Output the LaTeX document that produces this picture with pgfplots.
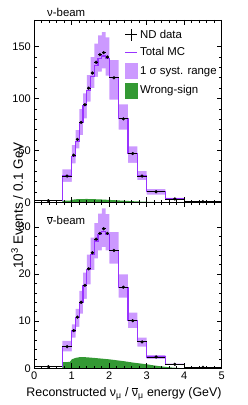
\documentclass[border=0pt]{standalone}
\usepackage{fontspec}
\setmainfont{Liberation Sans}
\usepackage{pgfplots}
\usepackage{pgfplotstable}
\pgfplotsset{compat=1.18}
\definecolor{band}{RGB}{204,153,255}
\definecolor{mcline}{RGB}{153,51,255}
\definecolor{wsgreen}{RGB}{51,153,51}

% nu-beam: left edge, centre, half width, data, MC, band low, band high
\pgfplotstableread{
xl   xc    ex    data  mc    lo    hi
0    0.375 0.375 1.5   1.5   1.2   1.8
0.75 0.875 0.125 25.3  25.5  19.8  31.7
1.0  1.05  0.05  45.5  44.5  37.5  55
1.1  1.15  0.05  60.6  59    52    69.5
1.2  1.25  0.05  77    77    64.7  89.7
1.3  1.35  0.05  94    93    81    105
1.4  1.45  0.05  110   107.5 97    122.6
1.5  1.55  0.05  124.6 121.5 110   140
1.6  1.65  0.05  135   132   121   153
1.7  1.75  0.05  142.3 139   126   161
1.8  1.85  0.05  144.2 141   129   164
1.9  1.95  0.05  140   139   122   159
2.0  2.125 0.125 120   120.5 99    137
2.25 2.375 0.125 80.4  80.5  70    94.4
2.5  2.625 0.125 47    47    38    54
2.75 2.875 0.125 25.3  25.5  21.4  30
3.0  3.25  0.25  10.2  10.3  7.5   12.8
3.5  3.75  0.25  3.2   3.3   2.4   4.2
4.0  4.5   0.5   0.6   0.6   0.4   0.8
5.0  5.0   0     0.6   0.6   0.4   0.8
}\nutab

% anti-nu-beam
\pgfplotstableread{
xl   xc    ex    data  mc    lo    hi
0    0.375 0.375 0.35  0.35  0.3   0.4
0.75 0.875 0.125 4.6   4.7   3.6   5.8
1.0  1.05  0.05  8.0   7.9   6.5   9.3
1.1  1.15  0.05  10.85 10.7  8.8   12.6
1.2  1.25  0.05  14.0  14.0  11.6  16.4
1.3  1.35  0.05  17.6  17.5  14.7  20.3
1.4  1.45  0.05  21.1  20.9  17.8  24.1
1.5  1.55  0.05  24.5  24.2  20.8  27.7
1.6  1.65  0.05  27.4  27.0  23.3  30.8
1.7  1.75  0.05  28.6  28.3  25.0  32.8
1.8  1.85  0.05  29.6  29.0  25.7  33.9
1.9  1.95  0.05  28.6  28.3  25.0  32.7
2.0  2.125 0.125 25.0  24.9  22.2  28.9
2.25 2.375 0.125 17.2  17.2  15.0  19.9
2.5  2.625 0.125 10.1  10.1  8.5   11.8
2.75 2.875 0.125 5.6   5.6   4.6   6.5
3.0  3.25  0.25  2.4   2.4   2.0   2.8
3.5  3.75  0.25  0.85  0.85  0.7   1.0
4.0  4.5   0.5   0.2   0.2   0.15  0.25
5.0  5.0   0     0.2   0.2   0.15  0.25
}\nubartab

\pgfplotsset{
  panel/.style={
    scale only axis, width=187.4pt,
    xmin=0, xmax=5, ymin=0,
    xtick={0,1,2,3,4,5},
    minor x tick num=4, minor y tick num=4,
    tick align=inside,
    major tick length=5pt, minor tick length=2.6pt,
    axis line style={line width=0.8pt, black},
    every tick/.style={line width=0.6pt, black},
    /pgf/number format/assume math mode=true,
    tick label style={font=\fontsize{11}{13}\selectfont},
    axis on top,
  },
  datastyle/.style={only marks, mark=*, mark size=1.4pt, black, forget plot,
    skip coords between index={19}{20},
    error bars/.cd, x dir=both, x explicit, error mark=none,
    error bar style={line width=0.9pt, black}},
  mcstyle/.style={const plot mark left, mcline, line width=1.1pt, forget plot},
  bandhi/.style={const plot mark left, fill=band, draw=none, forget plot},
  bandlo/.style={const plot mark left, fill=white, draw=none, forget plot},
}

\begin{document}
\begin{tikzpicture}
\useasboundingbox (-34.3pt,-36.7pt) rectangle (212.7pt,368.3pt);

% ---------------- bottom panel: anti-nu beam
\begin{axis}[panel, at={(0pt,0pt)}, anchor=south west, height=166pt,
  ymax=35.2, ytick={0,10,20,30}]
  \addplot[bandhi] table[x=xl, y=hi] {\nubartab} \closedcycle;
  \addplot[bandlo] table[x=xl, y=lo] {\nubartab} \closedcycle;
  \addplot[fill=wsgreen, draw=none, forget plot] coordinates {
    (0.75,0)(0.75,1.3)(0.95,1.35)(1.0,1.9)(1.1,2.2)(1.2,2.35)(1.3,2.38)(1.4,2.33)
    (1.6,2.2)(1.8,2.05)(2.0,1.9)(2.2,1.7)(2.4,1.5)(2.6,1.25)(2.8,1.05)(3.0,0.85)
    (3.2,0.6)(3.4,0.4)(3.5,0.3)(3.7,0.15)(4.0,0)} \closedcycle;
  \addplot[mcstyle] table[x=xl, y=mc] {\nubartab};
  \addplot[datastyle] table[x=xc, y=data, x error=ex] {\nubartab};
\end{axis}

% ---------------- top panel: nu beam
\begin{axis}[panel, at={(0pt,166pt)}, anchor=south west, height=182.3pt,
  ymax=175.7, ytick={0,50,100,150}, xticklabels={},
  legend cell align=left,
  legend style={draw=none, fill=none, at={(0.985,0.958)}, anchor=north east,
    font=\fontsize{11.4}{13}\selectfont, row sep=4pt, inner sep=0pt,
    /tikz/every even column/.append style={column sep=1.5pt}}]
  \addplot[bandhi] table[x=xl, y=hi] {\nutab} \closedcycle;
  \addplot[bandlo] table[x=xl, y=lo] {\nutab} \closedcycle;
  \addplot[fill=wsgreen, draw=none, forget plot] coordinates {
    (0.75,0)(0.75,1.5)(0.95,1.6)(1.0,2.4)(1.1,2.9)(1.2,3.1)(1.4,3.2)(1.6,3.0)
    (1.8,2.7)(2.0,2.3)(2.2,1.9)(2.4,1.5)(2.6,1.1)(2.8,0.8)(3.0,0.5)(3.2,0.3)
    (3.5,0.15)(3.8,0.05)(4.0,0)} \closedcycle;
  \addplot[mcstyle] table[x=xl, y=mc] {\nutab};
  \addplot[datastyle] table[x=xc, y=data, x error=ex] {\nutab};

  \addlegendimage{legend image code/.code={
    \draw[black, line width=1pt] (0pt,0pt)--(12pt,0pt);
    \draw[black, line width=1pt] (6pt,-6pt)--(6pt,6pt);}}
  \addlegendentry{ND data}
  \addlegendimage{legend image code/.code={
    \draw[mcline, line width=1.4pt] (0pt,0pt)--(12pt,0pt);}}
  \addlegendentry{Total MC}
  \addlegendimage{legend image code/.code={
    \fill[band] (0pt,-7.5pt) rectangle (12pt,7.5pt);}}
  \addlegendentry{1 σ syst. range}
  \addlegendimage{legend image code/.code={
    \fill[wsgreen] (0pt,-7.5pt) rectangle (12pt,7.5pt);}}
  \addlegendentry{Wrong-sign}
\end{axis}

\node[anchor=base west, inner sep=0pt, font=\fontsize{11.4}{13}\selectfont]
  at (12.7pt,351.8pt) {ν-beam};
\node[anchor=base west, inner sep=0pt, font=\fontsize{11.4}{13}\selectfont]
  at (12.7pt,144pt) {$\overline{\mbox{ν}}$-beam};
\node[rotate=90, anchor=base, inner sep=0pt, font=\fontsize{13.5}{16}\selectfont]
  at (-11.3pt,162.8pt) {10\textsuperscript{3} Events / 0.1 GeV};
\node[anchor=base east, inner sep=0pt, font=\fontsize{12.4}{14}\selectfont]
  at (187.4pt,-28.2pt) {Reconstructed ν\textsubscript{μ} / $\overline{\mbox{ν}}$\textsubscript{μ} energy (GeV)};
\end{tikzpicture}
\end{document}
